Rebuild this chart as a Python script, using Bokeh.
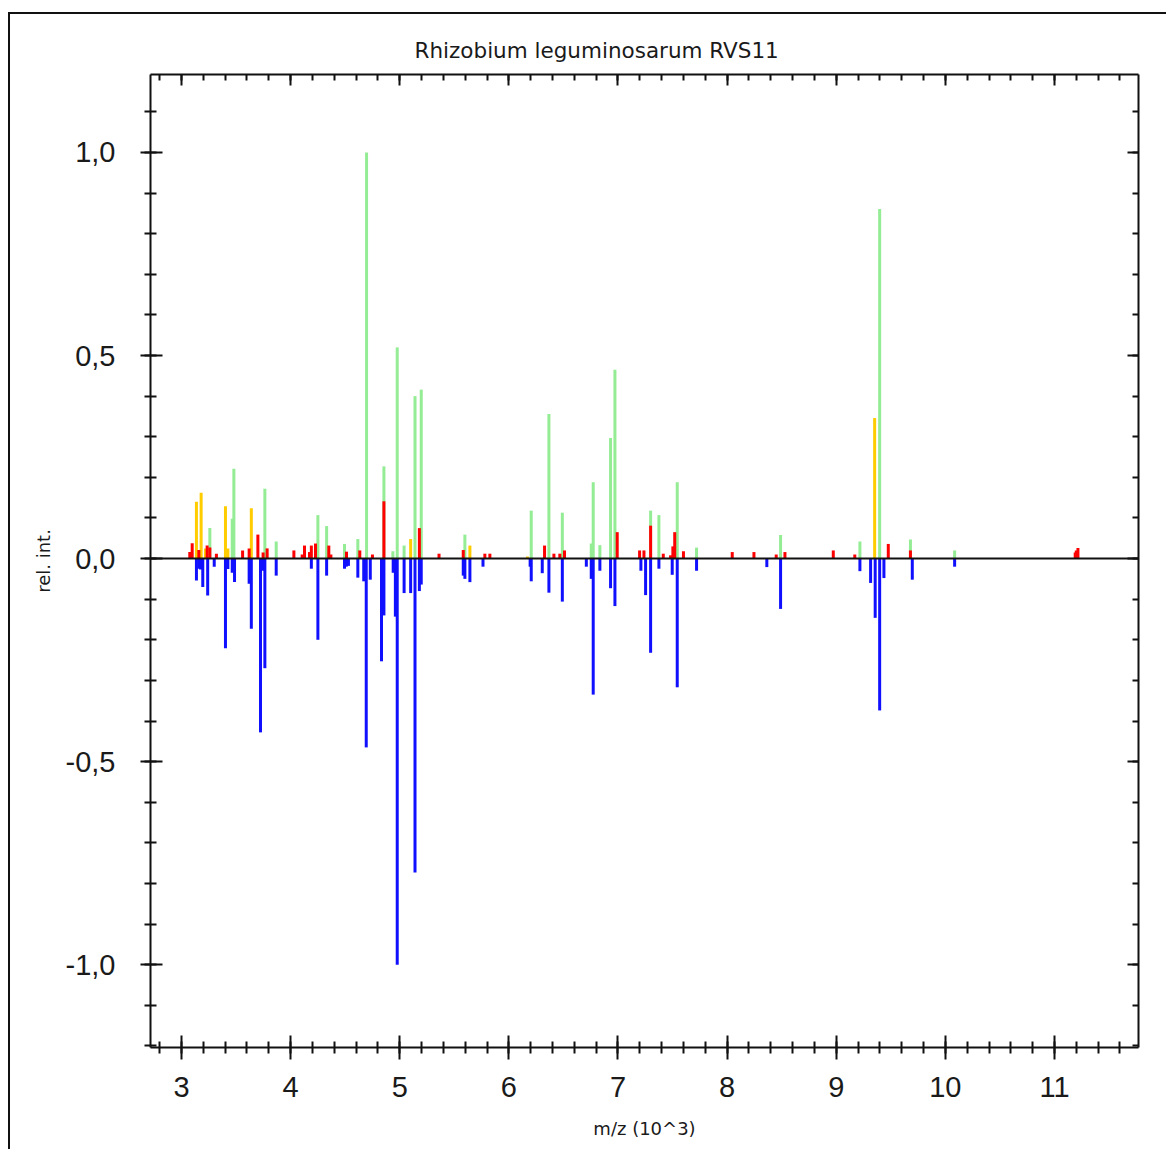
from bokeh.plotting import figure
from bokeh.models import (Range1d, LinearAxis, SingleIntervalTicker, CustomJSTickFormatter,
                          Span, ColumnDataSource)
from bokeh.embed import file_html
from bokeh.resources import INLINE

# ---- data (m/z in 10^3, relative intensity) ----
green_mz = [3.26, 3.465, 3.48, 3.764, 3.868, 4.25, 4.33, 4.494, 4.616, 4.696, 4.855, 4.937,
            4.977, 5.04, 5.14, 5.197, 5.597, 6.205, 6.367, 6.49, 6.755, 6.773, 6.834, 6.932,
            6.972, 7.299, 7.375, 7.543, 7.72, 8.49, 9.217, 9.398, 9.68, 10.085]
green_val = [0.075, 0.098, 0.221, 0.172, 0.042, 0.107, 0.08, 0.036, 0.048, 1.0, 0.227, 0.018,
             0.52, 0.032, 0.40, 0.416, 0.059, 0.118, 0.356, 0.113, 0.037, 0.188, 0.033, 0.297,
             0.465, 0.118, 0.107, 0.188, 0.027, 0.058, 0.042, 0.861, 0.047, 0.02]

yellow_mz = [3.137, 3.18, 3.22, 3.403, 3.425, 3.64, 5.10, 5.643, 6.17, 9.352]
yellow_val = [0.14, 0.162, 0.025, 0.129, 0.025, 0.124, 0.048, 0.032, 0.005, 0.346]

red_mz = [3.076, 3.098, 3.159, 3.235, 3.26, 3.32, 3.56, 3.62, 3.70, 3.748, 3.785, 4.03, 4.106,
          4.127, 4.173, 4.19, 4.228, 4.35, 4.369, 4.512, 4.634, 4.75, 4.855, 5.18, 5.36, 5.582,
          5.78, 5.826, 6.327, 6.413, 6.467, 6.51, 6.993, 7.198, 7.238, 7.299, 7.415, 7.482,
          7.503, 7.52, 7.60, 8.047, 8.246, 8.45, 8.53, 8.973, 9.17, 9.477, 9.68, 11.19, 11.20,
          11.215]
red_val = [0.016, 0.038, 0.021, 0.032, 0.027, 0.012, 0.02, 0.025, 0.059, 0.015, 0.025, 0.02, 0.01,
           0.032, 0.016, 0.032, 0.037, 0.032, 0.01, 0.017, 0.02, 0.01, 0.141, 0.075, 0.012, 0.021,
           0.012, 0.012, 0.032, 0.012, 0.012, 0.02, 0.065, 0.02, 0.02, 0.081, 0.012, 0.008,
           0.03, 0.065, 0.018, 0.016, 0.016, 0.01, 0.016, 0.02, 0.01, 0.036, 0.02, 0.015, 0.02,
           0.026]

blue_mz = [3.137, 3.159, 3.175, 3.195, 3.24, 3.30, 3.403, 3.425, 3.465, 3.486, 3.62, 3.64, 3.724,
           3.745, 3.764, 3.868, 4.19, 4.25, 4.33, 4.494, 4.51, 4.53, 4.616, 4.67, 4.693, 4.73,
           4.833, 4.855, 4.94, 4.96, 4.977, 5.04, 5.10, 5.14, 5.18, 5.197, 5.582, 5.597, 5.643,
           5.763, 6.195, 6.205, 6.306, 6.367, 6.49, 6.71, 6.755, 6.773, 6.834, 6.932, 6.972,
           7.21, 7.253, 7.299, 7.375, 7.497, 7.543, 7.72, 8.364, 8.49, 9.217, 9.315, 9.357,
           9.398, 9.437, 9.697, 10.085]
blue_val = [-0.054, -0.025, -0.027, -0.07, -0.091, -0.02, -0.221, -0.026, -0.035, -0.058, -0.062,
            -0.173, -0.428, -0.03, -0.27, -0.042, -0.025, -0.2, -0.042, -0.025, -0.02, -0.018,
            -0.047, -0.056, -0.465, -0.052, -0.253, -0.14, -0.035, -0.143, -1.0, -0.085, -0.085,
            -0.773, -0.08, -0.064, -0.042, -0.05, -0.058, -0.02, -0.02, -0.056, -0.036, -0.084,
            -0.106, -0.02, -0.05, -0.335, -0.03, -0.073, -0.117, -0.03, -0.09, -0.232, -0.025,
            -0.04, -0.317, -0.03, -0.021, -0.124, -0.031, -0.06, -0.146, -0.374, -0.048, -0.052,
            -0.02]

TITLE = "Rhizobium leguminosarum RVS11"
XLABEL = "m/z (10^3)"
YLABEL = "rel. int."

TXT = "#1a1a1a"

p = figure(width=1158, height=1137, output_backend="svg", toolbar_location=None,
           x_range=Range1d(2.716, 11.77), y_range=Range1d(-1.204, 1.192),
           x_axis_location=None, y_axis_location=None,
           min_border_left=140, min_border_right=30, min_border_top=60, min_border_bottom=104)
p.styles = {"margin-left": "8px", "margin-top": "12px",
            "border-left": "2px solid #111111", "border-top": "2px solid #111111"}
p.xgrid.visible = False
p.ygrid.visible = False
p.outline_line_color = None
p.background_fill_color = "white"
p.border_fill_color = "white"

p.title.text = TITLE
p.title.text_font = "DejaVu Sans"
p.title.text_font_size = "21.5px"
p.title.text_font_style = "normal"
p.title.text_color = TXT
p.title.align = "left"
p.title.offset = 264
p.title.standoff = 24

xt = SingleIntervalTicker(interval=1, num_minor_ticks=5)
yt = SingleIntervalTicker(interval=0.5, num_minor_ticks=5)
empty = CustomJSTickFormatter(code="return ''")
comma = CustomJSTickFormatter(code="return tick.toFixed(1).replace('.', ',')")

def style(ax, tin, tout):
    ax.axis_line_width = 2
    ax.axis_line_color = "#111111"
    ax.major_tick_line_width = 2
    ax.minor_tick_line_width = 2
    ax.major_tick_line_color = "#111111"
    ax.minor_tick_line_color = "#111111"
    ax.major_tick_in = tin
    ax.major_tick_out = tout
    ax.minor_tick_in = 6
    ax.minor_tick_out = 6 if tout else 0

bx = LinearAxis(ticker=xt, axis_label=XLABEL)
style(bx, 12, 12)
bx.major_label_text_font = "Liberation Sans"
bx.major_label_text_font_size = "29px"
bx.major_label_text_color = TXT
bx.major_label_standoff = 17
bx.axis_label_text_font = "DejaVu Sans"
bx.axis_label_text_font_size = "18px"
bx.axis_label_text_font_style = "normal"
bx.axis_label_text_color = TXT
bx.axis_label_standoff = 18
p.add_layout(bx, "below")

ly = LinearAxis(ticker=yt, formatter=comma, axis_label=YLABEL)
style(ly, 12, 10)
ly.major_label_text_font = "Liberation Sans"
ly.major_label_text_font_size = "29px"
ly.major_label_text_color = TXT
ly.major_label_standoff = 25
ly.axis_label_text_font = "DejaVu Sans"
ly.axis_label_text_font_size = "18px"
ly.axis_label_text_font_style = "normal"
ly.axis_label_text_color = TXT
ly.axis_label_standoff = 9
p.add_layout(ly, "left")

tx = LinearAxis(ticker=xt, formatter=empty)
style(tx, 11, 0)
tx.major_label_standoff = 0
tx.major_label_text_font_size = "1px"
p.add_layout(tx, "above")

ry = LinearAxis(ticker=yt, formatter=empty)
style(ry, 11, 0)
ry.major_label_standoff = 0
ry.major_label_text_font_size = "1px"
p.add_layout(ry, "right")

def bars(mz, val, color):
    src = ColumnDataSource(dict(x=mz, y0=[0] * len(mz), y1=val))
    p.segment(x0="x", y0="y0", x1="x", y1="y1", source=src,
              line_color=color, line_width=3, line_cap="butt")

bars(green_mz, green_val, "#94ec94")
bars(yellow_mz, yellow_val, "#ffcc00")
bars(red_mz, red_val, "#ff0000")
bars(blue_mz, blue_val, "#1010ff")

p.add_layout(Span(location=0, dimension="width", line_color="#111111", line_width=2))

open("out.html", "w").write(file_html(p, INLINE))
